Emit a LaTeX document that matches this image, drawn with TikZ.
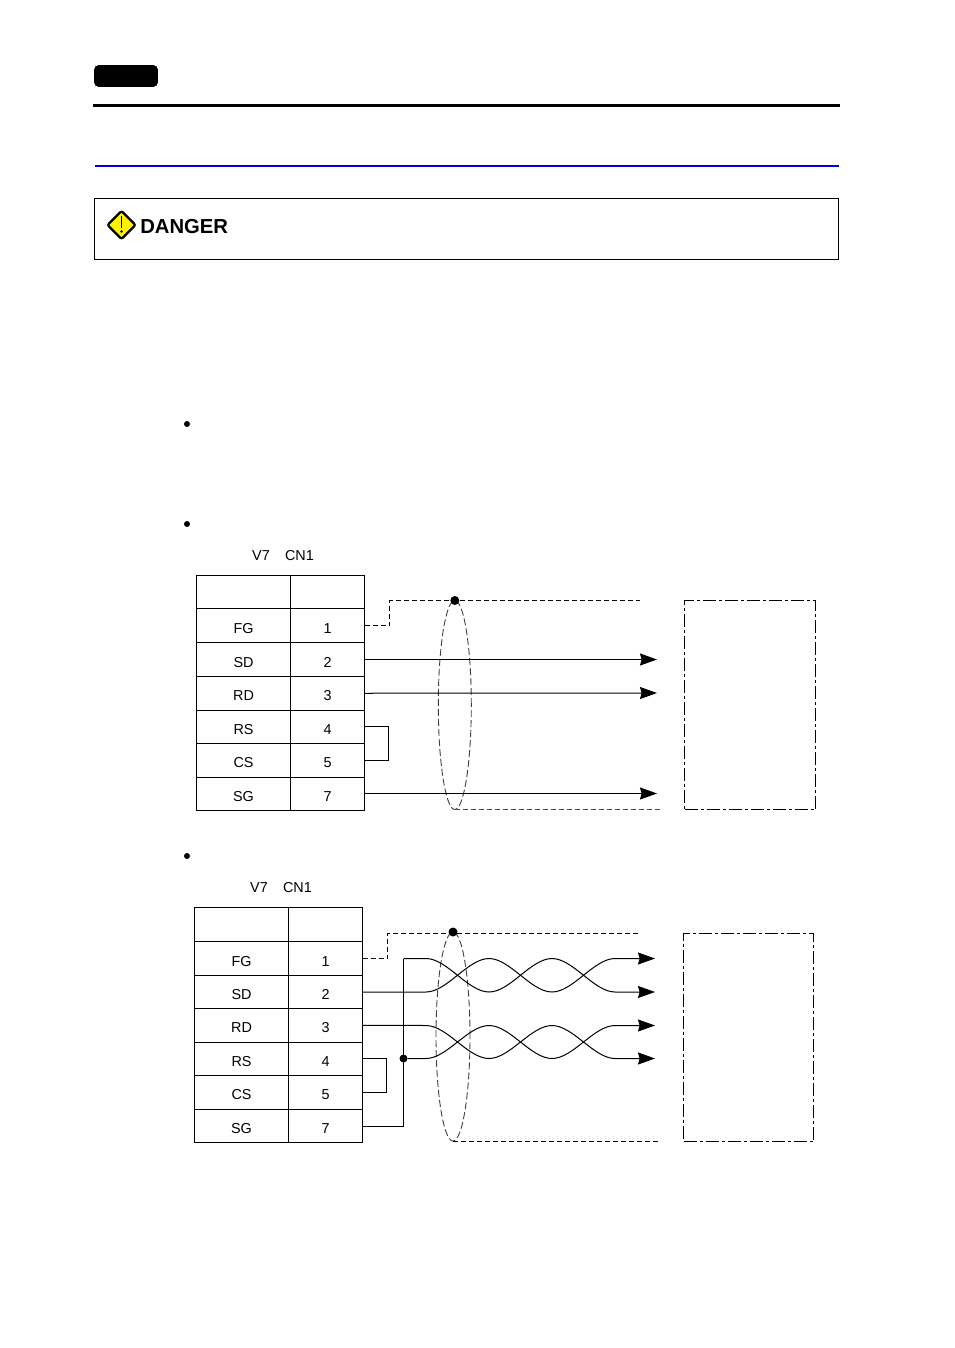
\documentclass[tikz,border=0pt]{standalone}
\usepackage{fontspec}
\setmainfont{Liberation Sans}
\usetikzlibrary{arrows.meta,shapes.geometric,shapes.misc}
\newlength{\px}
\setlength{\px}{0.75pt}
\tikzset{
  wire/.style={line width=1*\px,black},
  arrowwire/.style={wire,-{Stealth[length=12.75pt,width=9pt,inset=1.2pt]}},
  shield/.style={line width=1*\px,black,dash pattern=on 3.75pt off 2.25pt},
  shieldlight/.style={line width=1*\px,black!70,dash pattern=on 3.75pt off 2.25pt},
  cable/.style={draw,ellipse,inner sep=0pt,outer sep=0pt,line width=0.9*\px,black!75,dash pattern=on 5.25pt off 2.25pt},
  device/.style={draw,rectangle,inner sep=0pt,outer sep=0pt,line width=1*\px,dash pattern=on 9.75pt off 2.25pt on 2.25pt off 2.25pt},
  cell/.style={draw,rectangle,inner sep=0pt,outer sep=0pt,line width=1*\px,anchor=north west},
  lab/.style={inner sep=0pt,yshift=-2pt,font=\fontsize{10.8}{12}\selectfont},
  plainlab/.style={inner sep=0pt,font=\fontsize{10.8}{12}\selectfont},
  dot/.style={circle,fill=black,inner sep=0pt,outer sep=0pt,minimum size=#1*\px},
}
\begin{document}
\begin{tikzpicture}[x=0.75pt,y=-0.75pt]
\useasboundingbox (0,0) rectangle (954,1348);
% page header
\node[draw=black,fill=black,rounded corners=4*\px,inner sep=0pt,outer sep=0pt,minimum width=63*\px,minimum height=21*\px] (tab) at (126,76) {};
\coordinate (ruleL) at (93,105.5);
\coordinate (ruleR) at (840,105.5);
\draw[line width=3*\px] (ruleL) -- (ruleR);
\coordinate (blueL) at (95,166);
\coordinate (blueR) at (839,166);
\draw[line width=1.6*\px,blue!90!black] (blueL) -- (blueR);
% danger box
\node[draw,inner sep=0pt,outer sep=0pt,line width=1*\px,minimum width=744*\px,minimum height=61*\px] (dangerbox) at (466.5,229) {};
\node[diamond,draw=black,fill=yellow,line width=2.2*\px,rounded corners=2*\px,inner sep=0pt,minimum width=29*\px,minimum height=29*\px] (icon) at (121.5,225) {};
\draw[line width=1.8*\px] (121.5,216) -- (121.5,228);
\fill (121.5,231.5) circle (1.4*\px);
\node[anchor=base west,inner sep=0pt,font=\fontsize{15.2}{18}\selectfont\bfseries] (danger) at (140,233.5) {DANGER};
% bullets
\node[dot=6] (b1) at (187,424) {};
\node[dot=6] (b2) at (187,524) {};
\node[dot=6] (b3) at (187,856) {};
% first connector
\node[plainlab] (va) at (261,556) {V7};
\node[plainlab] (ca) at (299.5,556) {CN1};
\node[cell,minimum width=94*\px,minimum height=33*\px] (ah) at (196.5,575.5) {};
\node[cell,minimum width=74*\px,minimum height=33*\px] (ahp) at (290.5,575.5) {};
\foreach \n/\s/\p/\a/\b in {1/FG/1/608.5/642.5,2/SD/2/642.5/676.5,3/RD/3/676.5/710,4/RS/4/710/743.5,5/CS/5/743.5/777,6/SG/7/777/810}{
  \node[cell,minimum width=94*\px,minimum height={(\b-\a)*\px},label={[lab]center:\s}] (as\n) at (196.5,\a) {};
  \node[cell,minimum width=74*\px,minimum height={(\b-\a)*\px},label={[lab]center:\p}] (ap\n) at (290.5,\a) {};
}
\node[device,minimum width=131*\px,minimum height=209*\px] (adev) at (750,705) {};
\node[cable,minimum width=33*\px,minimum height=209*\px] (acable) at (454.8,705) {};
\coordinate (ashE) at (640,600.5);
\coordinate (asbE) at (661,809.5);
\coordinate (a2e) at (657,659.5);
\coordinate (a3e) at (657,693);
\coordinate (a6e) at (657,793.5);
\draw[shield] (ap1.east) -- (389.5,625.5) -- (389.5,600.5) -- (ashE);
\draw[shieldlight] (acable.south) -- (asbE);
\node[dot=9] (adot) at (acable.north) {};
\draw[arrowwire] (ap2.east) -- (a2e);
\draw[arrowwire] (ap3.east) -- (a3e);
\draw[arrowwire] (ap6.east) -- (a6e);
\draw[wire] (ap4.east) -- ++(24,0) |- (ap5.east);
% second connector
\node[plainlab] (vb) at (259,888) {V7};
\node[plainlab] (cb) at (297.5,888) {CN1};
\node[cell,minimum width=94*\px,minimum height=34*\px] (bh) at (194.5,907.5) {};
\node[cell,minimum width=74*\px,minimum height=34*\px] (bhp) at (288.5,907.5) {};
\foreach \n/\s/\p/\a/\b in {1/FG/1/941.5/975.5,2/SD/2/975.5/1008.5,3/RD/3/1008.5/1042,4/RS/4/1042/1075.5,5/CS/5/1075.5/1109,6/SG/7/1109/1142}{
  \node[cell,minimum width=94*\px,minimum height={(\b-\a)*\px},label={[lab]center:\s}] (bs\n) at (194.5,\a) {};
  \node[cell,minimum width=74*\px,minimum height={(\b-\a)*\px},label={[lab]center:\p}] (bp\n) at (288.5,\a) {};
}
\node[device,minimum width=130*\px,minimum height=208*\px] (bdev) at (748.5,1037.5) {};
\node[cable,minimum width=34*\px,minimum height=209*\px] (bcable) at (453,1036.5) {};
\coordinate (bshE) at (639,933);
\coordinate (bsbE) at (659,1141);
\draw[shield] (bp1.east) -- (387.5,958.5) -- (387.5,933) -- (bshE);
\draw[shield] (bcable.south) -- (bsbE);
\node[dot=9] (bdot) at (bcable.north) {};
\draw[wire] (bp4.east) -- ++(24,0) |- (bp5.east);
\coordinate (gnd) at (403.5,958.5);
\node[dot=8] (bjoin) at (403.5,1058.5) {};
\draw[wire] ([yshift=-0.75pt]bp6.east) -| (gnd);
\coordinate (t1) at (655,958.5);
\coordinate (t2) at (655,992);
\coordinate (t3) at (655,1025.5);
\coordinate (t4) at (655,1058.5);
\draw[arrowwire] (gnd) -- (426,958.5) .. controls (447,958.5) and (468,992) .. (489,992)
  .. controls (510,992) and (531,958.5) .. (552,958.5)
  .. controls (573,958.5) and (594,992) .. (615,992) -- (t2);
\draw[arrowwire] (bp2.east) -- (426,992) .. controls (447,992) and (468,958.5) .. (489,958.5)
  .. controls (510,958.5) and (531,992) .. (552,992)
  .. controls (573,992) and (594,958.5) .. (615,958.5) -- (t1);
\draw[arrowwire] (bp3.east) -- (426,1025.5) .. controls (447,1025.5) and (468,1058.5) .. (489,1058.5)
  .. controls (510,1058.5) and (531,1025.5) .. (552,1025.5)
  .. controls (573,1025.5) and (594,1058.5) .. (615,1058.5) -- (t4);
\draw[arrowwire] (bjoin) -- (426,1058.5) .. controls (447,1058.5) and (468,1025.5) .. (489,1025.5)
  .. controls (510,1025.5) and (531,1058.5) .. (552,1058.5)
  .. controls (573,1058.5) and (594,1025.5) .. (615,1025.5) -- (t3);
\end{tikzpicture}
\end{document}
